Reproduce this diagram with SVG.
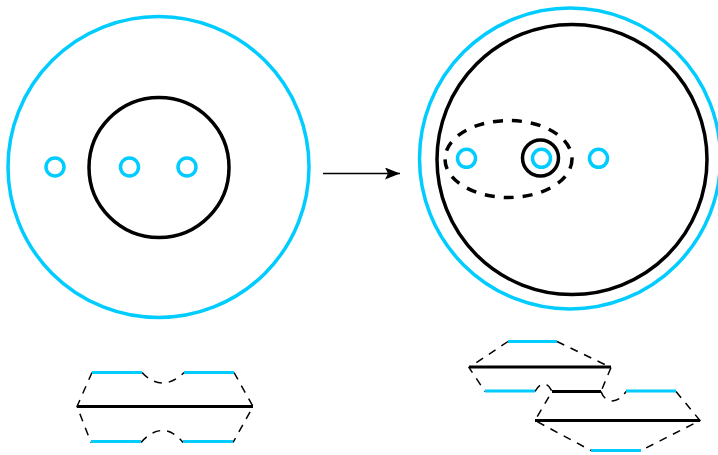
<svg xmlns="http://www.w3.org/2000/svg" width="718" height="455" viewBox="0 0 718 455">
<style>
.c{fill:none;stroke:#00ccff;stroke-width:3.5}
.k{fill:none;stroke:#000;stroke-width:3.5}
.d{fill:none;stroke:#000;stroke-width:1.5;stroke-dasharray:8 7}
.cl{fill:none;stroke:#00ccff;stroke-width:3.2}
.kl{fill:none;stroke:#000;stroke-width:3.2}
</style>
<defs><marker id="a" markerUnits="userSpaceOnUse" markerWidth="18" markerHeight="12" refX="15" refY="6" orient="auto"><path d="M0 0L15 6L0 12L3 6Z" fill="#000"/></marker></defs>
<g id="left-disc">
<circle class="c" cx="158.500" cy="167" r="150.500"/>
<circle class="k" cx="159" cy="167.500" r="70"/>
<circle class="c" cx="55" cy="167" r="9"/>
<circle class="c" cx="129.500" cy="167" r="9"/>
<circle class="c" cx="187" cy="167" r="9"/>
</g>
<g id="right-disc">
<circle class="c" cx="570" cy="158.500" r="150.500"/>
<circle class="k" cx="572" cy="159.500" r="135"/>
<ellipse cx="508.500" cy="159" rx="63.500" ry="38.500" fill="none" stroke="#000" stroke-width="3.5" stroke-dasharray="10 9"/>
<circle class="k" cx="540.500" cy="158" r="18"/>
<circle class="c" cx="466.500" cy="158.300" r="9"/>
<circle class="c" cx="541.500" cy="158.300" r="9"/>
<circle class="c" cx="598.500" cy="158.300" r="9"/>
</g>
<g id="connectors">
<line x1="323" y1="173.500" x2="400" y2="173.500" stroke="#000" stroke-width="1.5" marker-end="url(#a)"/>
</g>
<g id="left-surface">
<path class="d" d="M92 372.500L77 406.500L91 442.500M142 372.500C155 386.500 170 386.500 184 372.500M234 372.500L253 406.500L233 442.500M141 442.500C155 426.500 170 426.500 183 442.500"/>
<path class="kl" d="M77 406.500H253"/>
<path class="cl" d="M92 372.500H142M184 372.500H234M91 441.500H141M183 441.500H233"/>
</g>
<g id="right-surface">
<path class="d" d="M508 341.500L469 367.500L485 391.500M557 341.500L611 367.500L601 391.500M535 391.500C540 381.500 548 381.500 552 391.500L535 420.500L591 450.500M601 391.500C605 403.500 618 404.500 626 391.500M676 391.500L700 420.500L641 450.500"/>
<path class="kl" d="M469 367H611M535 420.500H700"/>
<path class="kl" d="M552 391.500H601"/>
<path class="cl" d="M508 341.500H557M485 391H535M626 391H676M591 450.500H641"/>
</g>
</svg>
